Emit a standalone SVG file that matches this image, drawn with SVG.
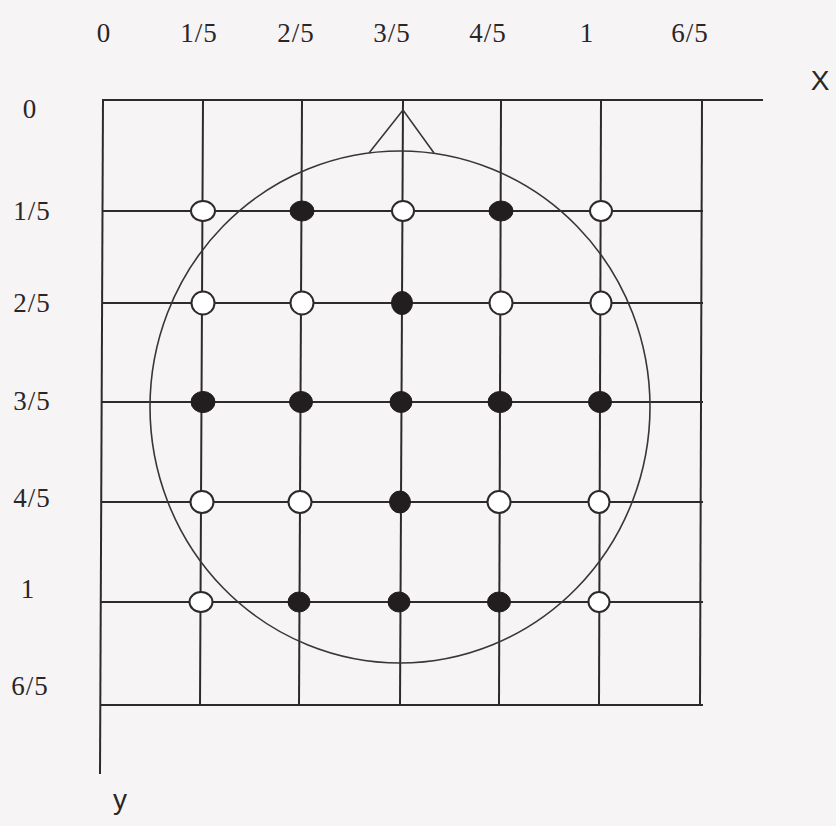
<svg xmlns="http://www.w3.org/2000/svg" width="836" height="826" viewBox="0 0 836 826">
<style>
.bg{fill:#f6f4f5}
.ln{stroke:#2e2a2c;stroke-width:2;fill:none;stroke-linecap:square}
.head{stroke:#3a3536;stroke-width:1.6;fill:none}
.lbl{font-family:"Liberation Serif","DejaVu Serif",serif;font-size:27px;fill:#2a2628;text-anchor:middle;letter-spacing:1px}
.ax{font-family:"Liberation Sans","DejaVu Sans",sans-serif;font-size:28px;fill:#2a2628;text-anchor:middle}
.open{fill:#ffffff;stroke:#2e2a2c;stroke-width:2}
.full{fill:#221e20;stroke:#221e20;stroke-width:1}
</style>
<rect class="bg" x="0" y="0" width="836" height="826"/>
<g id="labels">
<text class="lbl" x="104" y="42">0</text>
<text class="lbl" x="199" y="42">1/5</text>
<text class="lbl" x="296" y="42">2/5</text>
<text class="lbl" x="392" y="42">3/5</text>
<text class="lbl" x="488" y="42">4/5</text>
<text class="lbl" x="587" y="42">1</text>
<text class="lbl" x="690" y="42">6/5</text>
<text class="lbl" x="30" y="118">0</text>
<text class="lbl" x="32" y="220">1/5</text>
<text class="lbl" x="32" y="312">2/5</text>
<text class="lbl" x="32" y="410">3/5</text>
<text class="lbl" x="32" y="507">4/5</text>
<text class="lbl" x="28" y="598">1</text>
<text class="lbl" x="30" y="695">6/5</text>
<text class="ax" x="820" y="90">X</text>
<text class="ax" x="120" y="809">y</text>
</g>
<g id="connectors">
<line class="ln" x1="103" y1="100" x2="762" y2="100"/>
<line class="ln" x1="103" y1="100" x2="100" y2="773"/>
<line class="ln" x1="103" y1="211" x2="702" y2="211"/>
<line class="ln" x1="103" y1="303" x2="702" y2="303"/>
<line class="ln" x1="102" y1="402" x2="702" y2="402"/>
<line class="ln" x1="102" y1="502" x2="702" y2="502"/>
<line class="ln" x1="101" y1="602" x2="702" y2="602"/>
<line class="ln" x1="101" y1="705" x2="702" y2="705"/>
<line class="ln" x1="203" y1="100" x2="200" y2="705"/>
<line class="ln" x1="302" y1="100" x2="299" y2="705"/>
<line class="ln" x1="403" y1="100" x2="400" y2="705"/>
<line class="ln" x1="501" y1="100" x2="499" y2="705"/>
<line class="ln" x1="601" y1="100" x2="599" y2="705"/>
<line class="ln" x1="702" y1="100" x2="700" y2="705"/>
</g>
<g id="head">
<ellipse class="head" cx="400" cy="407" rx="250" ry="256"/>
<polyline class="head" points="369,153 403,110 434,153"/>
</g>
<g id="n11"><ellipse class="open" cx="203" cy="211" rx="12" ry="10"/></g>
<g id="n12"><ellipse class="full" cx="302" cy="211" rx="12" ry="10"/></g>
<g id="n13"><ellipse class="open" cx="403" cy="211" rx="11" ry="10"/></g>
<g id="n14"><ellipse class="full" cx="501" cy="211" rx="12" ry="10"/></g>
<g id="n15"><ellipse class="open" cx="601" cy="211" rx="11" ry="10"/></g>
<g id="n21"><ellipse class="open" cx="203" cy="303" rx="11.5" ry="11.5"/></g>
<g id="n22"><ellipse class="open" cx="302" cy="303" rx="11.5" ry="11.5"/></g>
<g id="n23"><ellipse class="full" cx="402" cy="303" rx="10.5" ry="11.5"/></g>
<g id="n24"><ellipse class="open" cx="501" cy="303" rx="11.5" ry="11.5"/></g>
<g id="n25"><ellipse class="open" cx="601" cy="303" rx="10.5" ry="11.5"/></g>
<g id="n31"><ellipse class="full" cx="203" cy="402" rx="12" ry="10.5"/></g>
<g id="n32"><ellipse class="full" cx="301" cy="402" rx="11.5" ry="10.5"/></g>
<g id="n33"><ellipse class="full" cx="401" cy="402" rx="11" ry="10.5"/></g>
<g id="n34"><ellipse class="full" cx="500" cy="402" rx="12" ry="10.5"/></g>
<g id="n35"><ellipse class="full" cx="600" cy="402" rx="11.5" ry="10.5"/></g>
<g id="n41"><ellipse class="open" cx="202" cy="502" rx="11.5" ry="11"/></g>
<g id="n42"><ellipse class="open" cx="300" cy="502" rx="11.5" ry="11"/></g>
<g id="n43"><ellipse class="full" cx="400" cy="502" rx="10.5" ry="11"/></g>
<g id="n44"><ellipse class="open" cx="499" cy="502" rx="11.5" ry="11"/></g>
<g id="n45"><ellipse class="open" cx="599" cy="502" rx="10.5" ry="11"/></g>
<g id="n51"><ellipse class="open" cx="201" cy="602" rx="11.5" ry="10"/></g>
<g id="n52"><ellipse class="full" cx="299" cy="602" rx="11" ry="10"/></g>
<g id="n53"><ellipse class="full" cx="399" cy="602" rx="11" ry="10"/></g>
<g id="n54"><ellipse class="full" cx="499" cy="602" rx="11.5" ry="10"/></g>
<g id="n55"><ellipse class="open" cx="599" cy="602" rx="10.5" ry="10"/></g>
</svg>
